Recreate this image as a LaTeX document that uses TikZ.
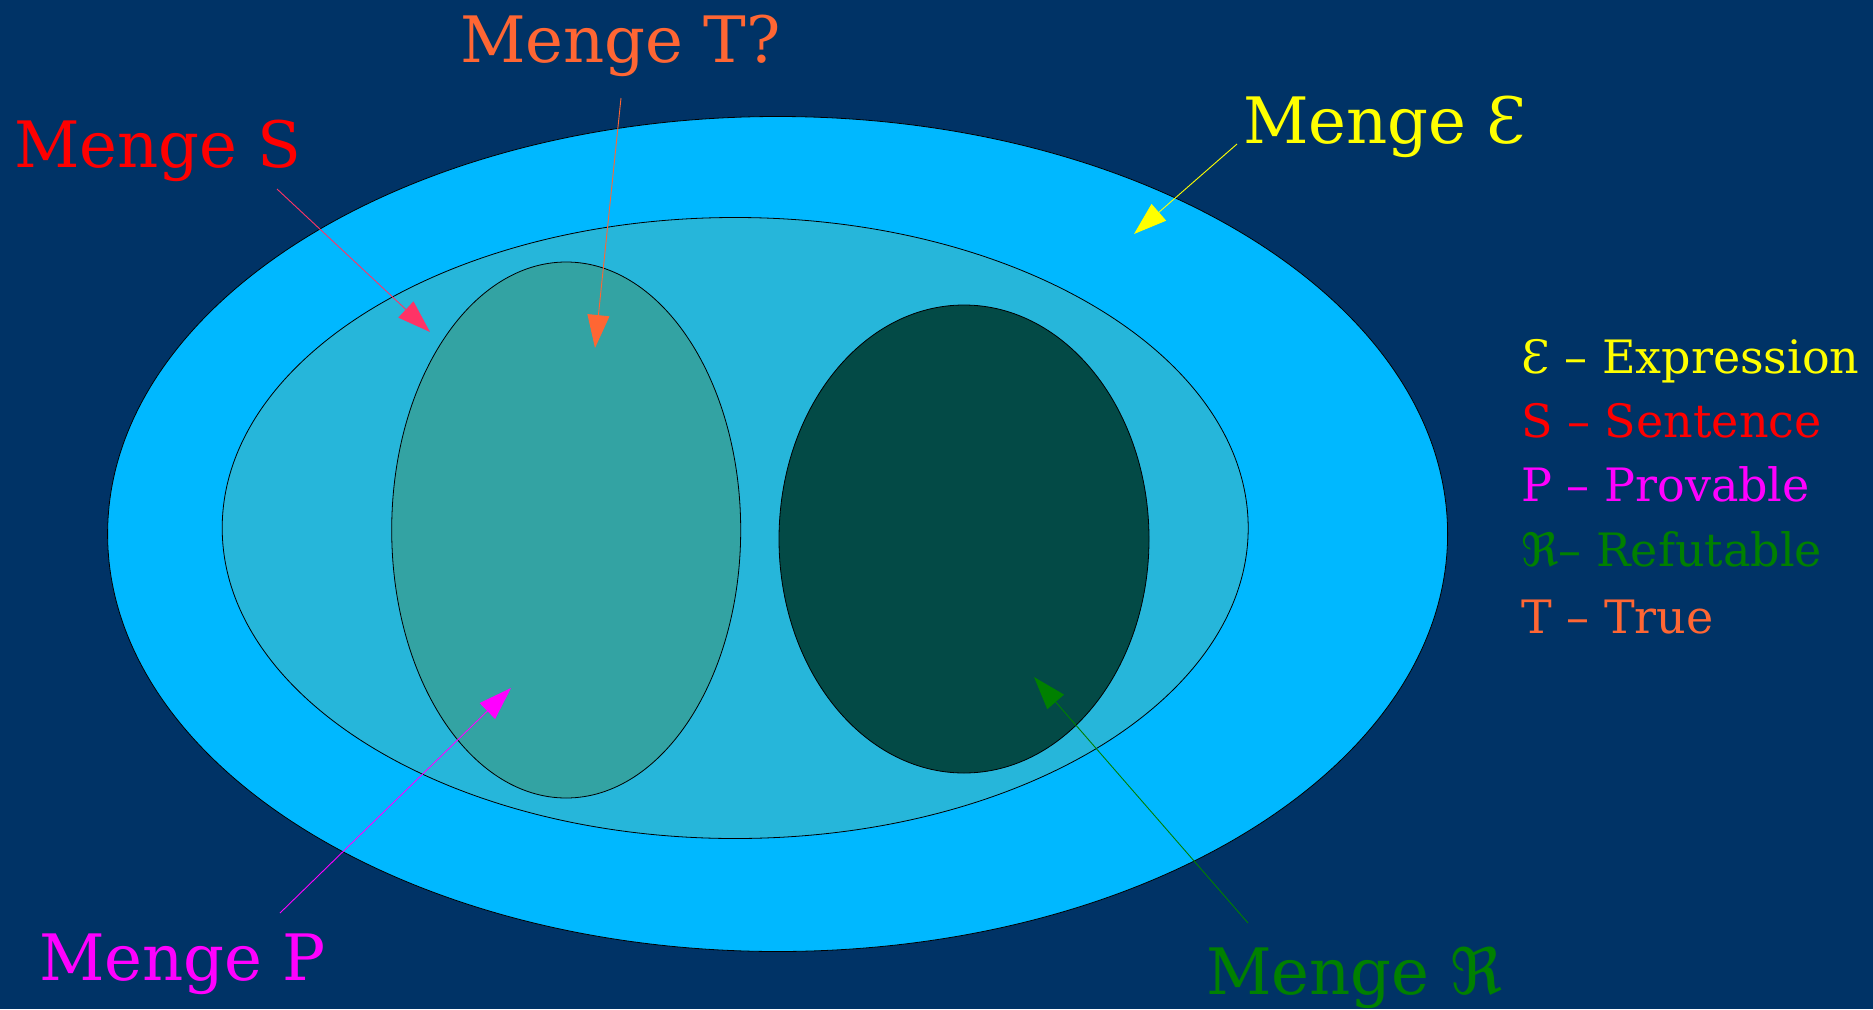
\documentclass[tikz,border=0pt]{standalone}
\usepackage{fontspec}
\setmainfont{DejaVu Serif}
\newfontfamily\frakfont{DejaVu Sans}
\usepackage{tikz}
\usetikzlibrary{arrows.meta, shapes.geometric}
\definecolor{nightblue}{RGB}{0,51,102}
\definecolor{skyouter}{RGB}{0,184,255}
\definecolor{skyinner}{RGB}{38,182,218}
\definecolor{tealset}{RGB}{51,163,163}
\definecolor{darkteal}{RGB}{3,74,70}
\definecolor{exprcol}{RGB}{255,255,0}
\definecolor{sentcol}{RGB}{255,0,0}
\definecolor{provcol}{RGB}{255,0,255}
\definecolor{truecol}{RGB}{255,102,51}
\definecolor{sentarrow}{RGB}{255,51,102}
\definecolor{refcol}{RGB}{0,128,0}
\newcommand{\refR}{{\frakfont ℜ}}

\begin{document}
\begin{tikzpicture}[
    x=1pt, y=-1pt,
    set/.style={ellipse, draw=black, line width=0.8pt, inner sep=0pt},
    biglabel/.style={anchor=base west, inner sep=0pt, font=\fontsize{64}{77}\selectfont},
    legend/.style={anchor=base west, inner sep=0pt, font=\fontsize{46}{56}\selectfont},
    pointer/.style={-{Triangle[length=33pt, width=22pt]}, line width=0.9pt}
]

% Background
\fill[nightblue] (0,0) rectangle (1873,1009);
\useasboundingbox (0,0) rectangle (1873,1009);

% Sets
\node[set, fill=skyouter, minimum width=1340pt, minimum height=835pt] (expr) at (777.6,534) {};
\node[set, fill=skyinner, minimum width=1026pt, minimum height=621pt] (sent) at (735.2,528) {};
\node[set, fill=tealset, minimum width=349pt, minimum height=536pt] (prov) at (566.2,530) {};
\node[set, fill=darkteal, minimum width=370pt, minimum height=468pt] (refu) at (964,539) {};

% Labels
\node[biglabel, text=truecol] (lblT) at (460,62) {Menge T?};
\node[biglabel, text=sentcol] (lblS) at (14,167) {Menge S};
\node[biglabel, text=exprcol] (lblE) at (1243,143) {Menge Ɛ};
\node[biglabel, text=provcol] (lblP) at (39,980) {Menge P};
\node[biglabel, text=refcol] (lblR) at (1206,994) {Menge \refR};

% Legend
\node[legend, text=exprcol] (legE) at (1521,373) {Ɛ – Expression};
\node[legend, text=sentcol] (legS) at (1521,437) {S – Sentence};
\node[legend, text=provcol] (legP) at (1521,501) {P – Provable};
\node[legend, text=refcol] (legR) at (1521,566) {\refR– Refutable};
\node[legend, text=truecol] (legT) at (1521,633) {T – True};

% Arrow ends
\coordinate (tailT) at (621,98);
\coordinate (tipT) at (595,348);
\coordinate (tailS) at (277,189);
\coordinate (tipS) at (430,332);
\coordinate (tailE) at (1237,144);
\coordinate (tipE) at (1134,234);
\coordinate (tailP) at (280,913);
\coordinate (tipP) at (511,688);
\coordinate (tailR) at (1248,923);
\coordinate (tipR) at (1034,677);

% Pointers
\draw[pointer, truecol] (tailT) -- (tipT);
\draw[pointer, sentarrow] (tailS) -- (tipS);
\draw[pointer, exprcol] (tailE) -- (tipE);
\draw[pointer, provcol] (tailP) -- (tipP);
\draw[pointer, refcol] (tailR) -- (tipR);

\end{tikzpicture}
\end{document}
